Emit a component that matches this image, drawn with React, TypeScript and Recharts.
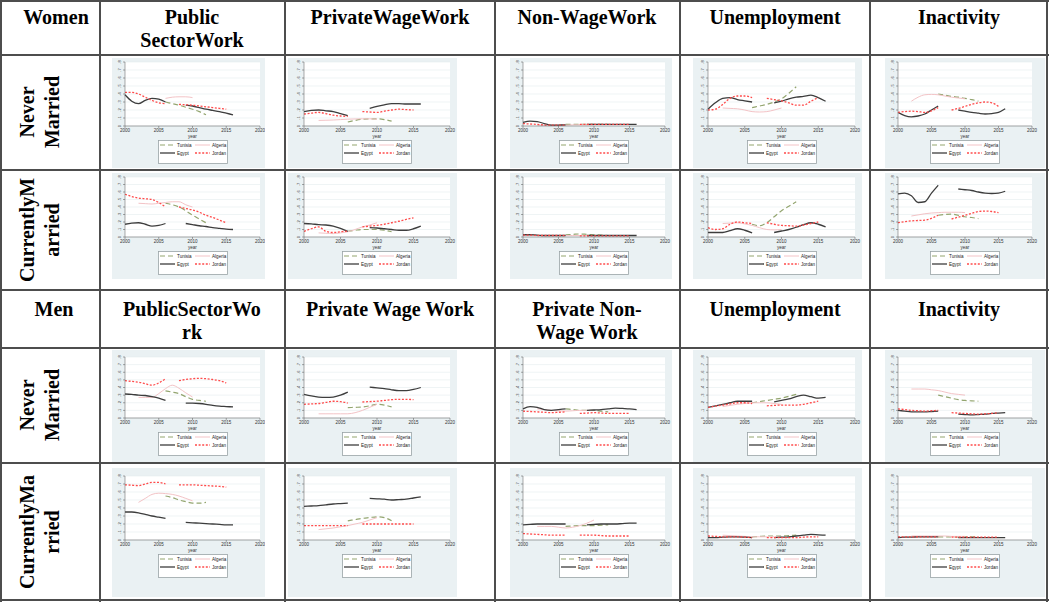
import React from "react";
import { LineChart, Line, XAxis, YAxis, CartesianGrid } from "recharts";

const _ = null;

const YEARS = [2000, 2001, 2002, 2003, 2004, 2005, 2006, 2007, 2008, 2009, 2010, 2011, 2012, 2013, 2014, 2015, 2016];
const X_TICKS = [2000, 2005, 2010, 2015, 2020];
const Y_TICKS = [0, 0.1, 0.2, 0.3, 0.4, 0.5, 0.6, 0.7, 0.8];

const COUNTRIES = [
  { key: "tun", name: "Tunisia" },
  { key: "alg", name: "Algeria" },
  { key: "egy", name: "Egypt" },
  { key: "jor", name: "Jordan" },
];

// women, never married
const wNmPublic = {
  tun: [_, _, _, _, _, _, 0.3, 0.28, 0.26, 0.235, 0.21, 0.18, 0.14, _, _, _, _],
  alg: [_, _, _, _, _, _, 0.345, 0.36, 0.365, 0.365, 0.355, _, _, _, _, _, _],
  egy: [0.39, 0.31, 0.28, 0.32, 0.345, 0.335, 0.3, _, _, 0.26, 0.25, 0.23, 0.21, 0.195, 0.18, 0.16, 0.14],
  jor: [0.42, 0.42, 0.4, 0.36, 0.32, 0.29, 0.28, _, 0.27, 0.265, 0.26, 0.25, 0.24, 0.23, 0.22, 0.21, _],
};
const wNmPrivWage = {
  tun: [_, _, _, _, _, _, 0.05, 0.07, 0.085, 0.09, 0.09, 0.08, 0.06, _, _, _, _],
  alg: [_, _, 0.07, 0.072, 0.075, 0.08, 0.085, 0.088, 0.09, 0.09, 0.085, _, _, _, _, _, _],
  egy: [0.18, 0.195, 0.2, 0.19, 0.18, 0.155, 0.13, _, _, 0.22, 0.245, 0.265, 0.28, 0.28, 0.275, 0.275, 0.275],
  jor: [0.15, 0.16, 0.17, 0.155, 0.135, 0.125, 0.12, _, 0.18, 0.175, 0.17, 0.185, 0.2, 0.21, 0.205, 0.2, _],
};
const wNmNonWage = {
  tun: [_, _, _, _, _, _, 0.02, 0.02, 0.02, 0.02, 0.02, 0.02, 0.02, _, _, _, _],
  alg: [_, _, 0.01, 0.01, 0.01, 0.01, 0.01, 0.015, 0.015, 0.015, 0.015, _, _, _, _, _, _],
  egy: [0.045, 0.06, 0.055, 0.03, 0.01, 0.012, 0.015, _, _, 0.02, 0.02, 0.02, 0.02, 0.02, 0.02, 0.02, 0.02],
  jor: [0.03, 0.025, 0.02, 0.012, 0.01, 0.01, 0.01, _, 0.02, 0.02, 0.02, 0.02, 0.02, 0.02, 0.02, 0.02, _],
};
const wNmUnemp = {
  tun: [_, _, _, _, _, _, 0.23, 0.25, 0.27, 0.3, 0.34, 0.41, 0.49, _, _, _, _],
  alg: [_, _, 0.225, 0.22, 0.215, 0.2, 0.18, 0.175, 0.18, 0.2, 0.225, _, _, _, _, _, _],
  egy: [0.21, 0.29, 0.345, 0.355, 0.33, 0.315, 0.3, _, _, 0.29, 0.31, 0.34, 0.36, 0.37, 0.385, 0.355, 0.31],
  jor: [0.2, 0.21, 0.27, 0.345, 0.375, 0.375, 0.355, _, 0.345, 0.33, 0.315, 0.29, 0.26, 0.26, 0.31, 0.355, _],
};
const wNmInact = {
  tun: [_, _, _, _, _, _, 0.4, 0.385, 0.37, 0.36, 0.345, 0.33, 0.31, _, _, _, _],
  alg: [_, _, 0.31, 0.36, 0.39, 0.395, 0.39, 0.375, 0.36, 0.35, 0.34, _, _, _, _, _, _],
  egy: [0.17, 0.13, 0.115, 0.125, 0.15, 0.2, 0.25, _, _, 0.2, 0.185, 0.17, 0.16, 0.15, 0.155, 0.17, 0.215],
  jor: [0.17, 0.18, 0.185, 0.18, 0.17, 0.19, 0.23, _, 0.2, 0.22, 0.245, 0.27, 0.29, 0.3, 0.29, 0.245, _],
};

// women, currently married
const wCmPublic = {
  tun: [_, _, _, _, _, _, 0.45, 0.43, 0.4, 0.35, 0.29, 0.24, 0.19, _, _, _, _],
  alg: [_, _, 0.45, 0.445, 0.44, 0.45, 0.46, 0.47, 0.47, 0.43, 0.4, _, _, _, _, _, _],
  egy: [0.17, 0.185, 0.19, 0.17, 0.145, 0.155, 0.18, _, _, 0.18, 0.165, 0.15, 0.14, 0.125, 0.115, 0.105, 0.1],
  jor: [0.57, 0.54, 0.52, 0.51, 0.5, 0.46, 0.4, _, 0.4, 0.38, 0.36, 0.33, 0.29, 0.26, 0.225, 0.19, _],
};
const wCmPrivWage = {
  tun: [_, _, _, _, _, _, 0.075, 0.09, 0.1, 0.1, 0.1, 0.09, 0.07, _, _, _, _],
  alg: [_, _, 0.055, 0.05, 0.045, 0.055, 0.07, 0.1, 0.135, 0.16, 0.19, _, _, _, _, _, _],
  egy: [0.18, 0.175, 0.165, 0.16, 0.145, 0.115, 0.075, _, _, 0.125, 0.12, 0.11, 0.1, 0.09, 0.09, 0.11, 0.145],
  jor: [0.075, 0.11, 0.135, 0.075, 0.06, 0.07, 0.08, _, 0.135, 0.145, 0.155, 0.17, 0.19, 0.21, 0.235, 0.255, _],
};
const wCmNonWage = {
  tun: [_, _, _, _, _, _, 0.03, 0.035, 0.04, 0.035, 0.03, 0.025, 0.02, _, _, _, _],
  alg: [_, _, 0.02, 0.02, 0.02, 0.02, 0.02, 0.02, 0.02, 0.02, 0.02, _, _, _, _, _, _],
  egy: [0.03, 0.03, 0.025, 0.02, 0.02, 0.02, 0.02, _, _, 0.02, 0.02, 0.02, 0.02, 0.02, 0.02, 0.02, 0.02],
  jor: [0.025, 0.025, 0.02, 0.02, 0.02, 0.02, 0.02, _, 0.015, 0.015, 0.015, 0.015, 0.015, 0.015, 0.015, 0.015, _],
};
const wCmUnemp = {
  tun: [_, _, _, _, _, _, 0.17, 0.15, 0.19, 0.27, 0.35, 0.41, 0.47, _, _, _, _],
  alg: [_, _, 0.18, 0.185, 0.19, 0.175, 0.155, 0.125, 0.1, 0.095, 0.1, _, _, _, _, _, _],
  egy: [0.06, 0.06, 0.06, 0.085, 0.11, 0.09, 0.055, _, _, 0.06, 0.08, 0.1, 0.13, 0.165, 0.19, 0.17, 0.135],
  jor: [0.125, 0.1, 0.11, 0.17, 0.2, 0.19, 0.18, _, 0.19, 0.17, 0.155, 0.15, 0.145, 0.16, 0.18, 0.2, _],
};
const wCmInact = {
  tun: [_, _, _, _, _, _, 0.29, 0.3, 0.305, 0.29, 0.27, 0.26, 0.245, _, _, _, _],
  alg: [_, _, 0.28, 0.295, 0.31, 0.32, 0.325, 0.33, 0.33, 0.33, 0.325, _, _, _, _, _, _],
  egy: [0.575, 0.585, 0.55, 0.46, 0.47, 0.585, 0.69, _, _, 0.64, 0.63, 0.62, 0.6, 0.585, 0.58, 0.585, 0.61],
  jor: [0.19, 0.205, 0.215, 0.22, 0.225, 0.25, 0.29, _, 0.24, 0.265, 0.29, 0.315, 0.34, 0.345, 0.34, 0.325, _],
};

// men, never married
const mNmPublic = {
  tun: [_, _, _, _, _, _, 0.355, 0.34, 0.32, 0.28, 0.245, 0.23, 0.22, _, _, _, _],
  alg: [_, _, 0.27, 0.27, 0.27, 0.32, 0.385, 0.43, 0.39, 0.33, 0.275, _, _, _, _, _, _],
  egy: [0.315, 0.31, 0.3, 0.295, 0.28, 0.26, 0.23, _, _, 0.195, 0.195, 0.19, 0.18, 0.165, 0.155, 0.15, 0.145],
  jor: [0.49, 0.48, 0.47, 0.45, 0.43, 0.46, 0.515, _, 0.49, 0.505, 0.515, 0.52, 0.515, 0.505, 0.49, 0.46, _],
};
const mNmPrivWage = {
  tun: [_, _, _, _, _, _, 0.135, 0.14, 0.145, 0.16, 0.18, 0.17, 0.145, _, _, _, _],
  alg: [_, _, 0.055, 0.055, 0.055, 0.055, 0.055, 0.07, 0.1, 0.14, 0.18, _, _, _, _, _, _],
  egy: [0.31, 0.29, 0.275, 0.27, 0.275, 0.3, 0.34, _, _, 0.405, 0.395, 0.385, 0.37, 0.36, 0.36, 0.375, 0.4],
  jor: [0.18, 0.185, 0.19, 0.205, 0.22, 0.215, 0.195, _, 0.21, 0.215, 0.22, 0.23, 0.24, 0.245, 0.245, 0.24, _],
};
const mNmNonWage = {
  tun: [_, _, _, _, _, _, 0.12, 0.11, 0.1, 0.1, 0.1, 0.09, 0.08, _, _, _, _],
  alg: [_, _, 0.12, 0.11, 0.1, 0.095, 0.09, 0.095, 0.1, 0.1, 0.1, _, _, _, _, _, _],
  egy: [0.12, 0.15, 0.14, 0.11, 0.1, 0.11, 0.12, _, _, 0.1, 0.105, 0.11, 0.12, 0.13, 0.125, 0.12, 0.11],
  jor: [0.09, 0.085, 0.08, 0.075, 0.07, 0.075, 0.08, _, 0.06, 0.065, 0.07, 0.065, 0.06, 0.06, 0.06, 0.06, _],
};
const mNmUnemp = {
  tun: [_, _, _, _, _, _, 0.2, 0.215, 0.23, 0.245, 0.26, 0.285, 0.31, _, _, _, _],
  alg: [_, _, 0.15, 0.165, 0.18, 0.19, 0.2, 0.2, 0.2, 0.19, 0.18, _, _, _, _, _, _],
  egy: [0.14, 0.16, 0.18, 0.2, 0.22, 0.22, 0.22, _, _, 0.21, 0.23, 0.25, 0.28, 0.3, 0.28, 0.26, 0.27],
  jor: [0.14, 0.155, 0.17, 0.185, 0.2, 0.2, 0.19, _, 0.16, 0.165, 0.17, 0.17, 0.17, 0.18, 0.2, 0.22, _],
};
const mNmInact = {
  tun: [_, _, _, _, _, _, 0.3, 0.28, 0.26, 0.24, 0.23, 0.225, 0.22, _, _, _, _],
  alg: [_, _, 0.38, 0.38, 0.38, 0.37, 0.36, 0.34, 0.32, 0.31, 0.3, _, _, _, _, _, _],
  egy: [0.1, 0.09, 0.08, 0.08, 0.08, 0.085, 0.09, _, _, 0.05, 0.045, 0.04, 0.045, 0.05, 0.06, 0.065, 0.07],
  jor: [0.12, 0.11, 0.1, 0.095, 0.09, 0.095, 0.1, _, 0.07, 0.065, 0.06, 0.055, 0.05, 0.055, 0.06, 0.07, _],
};

// men, currently married
const mCmPublic = {
  tun: [_, _, _, _, _, _, 0.55, 0.53, 0.5, 0.48, 0.46, 0.46, 0.47, _, _, _, _],
  alg: [_, _, 0.47, 0.52, 0.57, 0.585, 0.58, 0.57, 0.55, 0.52, 0.49, _, _, _, _, _, _],
  egy: [0.35, 0.35, 0.34, 0.32, 0.3, 0.285, 0.27, _, _, 0.22, 0.215, 0.21, 0.205, 0.2, 0.195, 0.19, 0.19],
  jor: [0.69, 0.685, 0.68, 0.7, 0.72, 0.72, 0.7, _, 0.69, 0.69, 0.69, 0.685, 0.68, 0.675, 0.67, 0.66, _],
};
const mCmPrivWage = {
  tun: [_, _, _, _, _, _, 0.24, 0.255, 0.27, 0.28, 0.29, 0.28, 0.24, _, _, _, _],
  alg: [_, _, 0.13, 0.14, 0.15, 0.165, 0.18, 0.2, 0.22, 0.25, 0.28, _, _, _, _, _, _],
  egy: [0.42, 0.425, 0.43, 0.44, 0.45, 0.455, 0.46, _, _, 0.52, 0.515, 0.51, 0.5, 0.505, 0.51, 0.525, 0.54],
  jor: [0.18, 0.18, 0.18, 0.18, 0.18, 0.18, 0.18, _, 0.2, 0.2, 0.2, 0.2, 0.2, 0.2, 0.2, 0.2, _],
};
const mCmNonWage = {
  tun: [_, _, _, _, _, _, 0.17, 0.175, 0.18, 0.18, 0.18, 0.185, 0.19, _, _, _, _],
  alg: [_, _, 0.17, 0.17, 0.17, 0.16, 0.15, 0.16, 0.18, 0.21, 0.25, _, _, _, _, _, _],
  egy: [0.19, 0.195, 0.2, 0.2, 0.2, 0.2, 0.2, _, _, 0.19, 0.195, 0.2, 0.2, 0.2, 0.205, 0.21, 0.21],
  jor: [0.08, 0.075, 0.07, 0.065, 0.06, 0.06, 0.06, _, 0.06, 0.06, 0.06, 0.055, 0.05, 0.05, 0.05, 0.05, _],
};
const mCmUnemp = {
  tun: [_, _, _, _, _, _, 0.04, 0.045, 0.05, 0.05, 0.05, 0.055, 0.06, _, _, _, _],
  alg: [_, _, 0.06, 0.055, 0.05, 0.045, 0.04, 0.04, 0.04, 0.04, 0.04, _, _, _, _, _, _],
  egy: [0.03, 0.03, 0.035, 0.04, 0.04, 0.035, 0.03, _, _, 0.03, 0.035, 0.04, 0.05, 0.06, 0.07, 0.065, 0.06],
  jor: [0.05, 0.045, 0.04, 0.04, 0.04, 0.035, 0.03, _, 0.03, 0.03, 0.03, 0.03, 0.03, 0.035, 0.04, 0.04, _],
};
const mCmInact = {
  tun: [_, _, _, _, _, _, 0.04, 0.04, 0.04, 0.04, 0.04, 0.04, 0.04, _, _, _, _],
  alg: [_, _, 0.05, 0.05, 0.05, 0.05, 0.05, 0.05, 0.045, 0.045, 0.045, _, _, _, _, _, _],
  egy: [0.03, 0.035, 0.035, 0.04, 0.04, 0.04, 0.04, _, _, 0.03, 0.03, 0.03, 0.03, 0.03, 0.03, 0.03, 0.03],
  jor: [0.04, 0.04, 0.04, 0.04, 0.04, 0.04, 0.04, _, 0.035, 0.035, 0.035, 0.035, 0.035, 0.035, 0.035, 0.035, _],
};

const GRID = [
  [wNmPublic, wNmPrivWage, wNmNonWage, wNmUnemp, wNmInact],
  [wCmPublic, wCmPrivWage, wCmNonWage, wCmUnemp, wCmInact],
  [mNmPublic, mNmPrivWage, mNmNonWage, mNmUnemp, mNmInact],
  [mCmPublic, mCmPrivWage, mCmNonWage, mCmUnemp, mCmInact],
];

const WOMEN_HEADERS = ["Public\nSectorWork", "PrivateWageWork", "Non-WageWork", "Unemployment", "Inactivity"];
const MEN_HEADERS = ["PublicSectorWo\nrk", "Private Wage Work", "Private Non-\nWage Work", "Unemployment", "Inactivity"];
const ROW_LABELS = ["Never\nMarried", "CurrentlyM\narried", "Never\nMarried", "CurrentlyMa\nrried"];

const STYLE: Record<string, { stroke: string; width: number; dash?: string }> = {
  tun: { stroke: "#93a56f", width: 1.2, dash: "5 3" },
  alg: { stroke: "#f3c3c6", width: 1 },
  egy: { stroke: "#3d3d3d", width: 1.3 },
  jor: { stroke: "#ff4b4b", width: 1.3, dash: "2 1.6" },
};

// table geometry
const V_LINES = [1, 100, 285, 495, 680, 870, 1047];
const H_LINES = [1, 55, 170, 290, 348, 463, 600];
const COL_CENTERS = [192, 390, 587, 775, 959];
const PANEL_ROWS = [
  { top: 58, h: 110, y8: 62, zero: 126, rowMid: 112 },
  { top: 173, h: 106, y8: 177, zero: 237, rowMid: 230 },
  { top: 350, h: 112, y8: 357, zero: 418, rowMid: 405 },
  { top: 468, h: 129, y8: 476, zero: 540, rowMid: 532 },
];
const PANEL_COLS = [
  { left: 112, right: 265, x0: 125, x20: 260 },
  { left: 288, right: 457, x0: 304, x20: 450 },
  { left: 510, right: 672, x0: 523, x20: 665 },
  { left: 693, right: 862, x0: 708, x20: 855 },
  { left: 885, right: 1045, x0: 898, x20: 1032 },
];

const SMALL_FONT = "'Liberation Sans', Arial, sans-serif";
const SERIF = "'Liberation Serif', 'Times New Roman', serif";

const fmtY = (v: number) => (v === 0 ? "0" : v.toFixed(1).replace(/^0/, ""));

const YTick = (p: any) => (
  <text
    x={p.x}
    y={p.y}
    transform={`rotate(-90 ${p.x} ${p.y})`}
    textAnchor="middle"
    fontSize={4}
    fontFamily={SMALL_FONT}
    fill="#333"
  >
    {fmtY(p.payload.value)}
  </text>
);

const LegendBox = ({ width }: { width: number }) => {
  const item = (key: string, name: string, x: number, y: number) => {
    const s = STYLE[key];
    return (
      <g key={key}>
        <line x1={x} x2={x + 15} y1={y} y2={y} stroke={s.stroke} strokeWidth={s.width} strokeDasharray={s.dash} />
        <text x={x + 17} y={y + 1.6} fontSize={4.6} fontFamily={SMALL_FONT} fill="#222">
          {name}
        </text>
      </g>
    );
  };
  return (
    <svg width={width} height={24} style={{ display: "block" }}>
      <rect x={0.5} y={0.5} width={width - 1} height={23} fill="#fff" stroke="#9aa3a6" strokeWidth={0.8} />
      {item("tun", "Tunisia", 2, 5)}
      {item("alg", "Algeria", 37, 5)}
      {item("egy", "Egypt", 2, 13)}
      {item("jor", "Jordan", 37, 13)}
    </svg>
  );
};

const Panel = ({ series, col, row }: { series: any; col: any; row: any }) => {
  const data = YEARS.map((year, i) => ({
    year,
    tun: series.tun[i],
    alg: series.alg[i],
    egy: series.egy[i],
    jor: series.jor[i],
  }));
  const w = col.right - col.left;
  const axisH = 14;
  const h = row.zero - row.top + axisH;
  const plotMid = (col.x0 + col.x20) / 2 - col.left;
  const legendW = 70;

  return (
    <div
      style={{
        position: "absolute",
        left: col.left,
        top: row.top,
        width: w,
        height: row.h,
        background: "#eaf1f3",
      }}
    >
      <LineChart
        width={w}
        height={h}
        data={data}
        margin={{ top: row.y8 - row.top, right: col.right - col.x20, left: 0, bottom: 0 }}
      >
        <CartesianGrid vertical={false} fill="#ffffff" stroke="#e4ecee" strokeWidth={0.6} />
        <XAxis
          dataKey="year"
          type="number"
          domain={[2000, 2020]}
          ticks={X_TICKS}
          interval={0}
          height={axisH}
          tickSize={2}
          tickMargin={1}
          stroke="#555"
          strokeWidth={0.5}
          tick={{ fontSize: 4.5, fill: "#333", fontFamily: SMALL_FONT }}
          label={{ value: "year", position: "insideBottom", offset: 2, fontSize: 4.5, fill: "#333", fontFamily: SMALL_FONT }}
        />
        <YAxis
          type="number"
          domain={[0, 0.8]}
          ticks={Y_TICKS}
          interval={0}
          width={col.x0 - col.left}
          tickSize={2}
          tickMargin={2}
          stroke="#555"
          strokeWidth={0.5}
          tick={YTick}
        />
        {COUNTRIES.map((c) => (
          <Line
            key={c.key}
            dataKey={c.key}
            type="monotone"
            stroke={STYLE[c.key].stroke}
            strokeWidth={STYLE[c.key].width}
            strokeDasharray={STYLE[c.key].dash}
            dot={false}
            connectNulls={false}
            isAnimationActive={false}
          />
        ))}
      </LineChart>
      <div style={{ position: "absolute", left: plotMid - legendW / 2, top: row.zero - row.top + 14 }}>
        <LegendBox width={legendW} />
      </div>
    </div>
  );
};

const HeaderText = ({ text, cx, top }: { text: string; cx: number; top: number }) => (
  <div
    style={{
      position: "absolute",
      left: cx - 110,
      width: 220,
      top,
      textAlign: "center",
      whiteSpace: "pre",
      fontFamily: SERIF,
      fontWeight: "bold",
      fontSize: 20,
      lineHeight: "23px",
      color: "#000",
    }}
  >
    {text}
  </div>
);

const RotatedLabel = ({ text, cx, cy }: { text: string; cx: number; cy: number }) => (
  <div
    style={{
      position: "absolute",
      left: cx,
      top: cy,
      transform: "translate(-50%, -50%) rotate(-90deg)",
      textAlign: "center",
      whiteSpace: "pre",
      fontFamily: SERIF,
      fontWeight: "bold",
      fontSize: 20,
      lineHeight: "25px",
      color: "#000",
    }}
  >
    {text}
  </div>
);

export default function App() {
  return (
    <div style={{ position: "absolute", left: 0, top: 0, width: 1050, height: 603, background: "#fff", overflow: "hidden" }}>
      {GRID.map((rowSeries, r) =>
        rowSeries.map((s, c) => <Panel key={`${r}-${c}`} series={s} col={PANEL_COLS[c]} row={PANEL_ROWS[r]} />)
      )}

      {V_LINES.map((x) => (
        <div key={`v${x}`} style={{ position: "absolute", left: x - 1, top: 0, width: 2, height: 602, background: "#4d4d4d" }} />
      ))}
      {H_LINES.map((y) => (
        <div key={`h${y}`} style={{ position: "absolute", left: 0, top: y - 1, width: 1049, height: 2, background: "#4d4d4d" }} />
      ))}

      <HeaderText text="Women" cx={56} top={6} />
      {WOMEN_HEADERS.map((t, i) => (
        <HeaderText key={`w${i}`} text={t} cx={COL_CENTERS[i]} top={6} />
      ))}
      <HeaderText text="Men" cx={54} top={298} />
      {MEN_HEADERS.map((t, i) => (
        <HeaderText key={`m${i}`} text={t} cx={COL_CENTERS[i]} top={298} />
      ))}

      {ROW_LABELS.map((t, i) => (
        <RotatedLabel key={`r${i}`} text={t} cx={40} cy={PANEL_ROWS[i].rowMid} />
      ))}
    </div>
  );
}
